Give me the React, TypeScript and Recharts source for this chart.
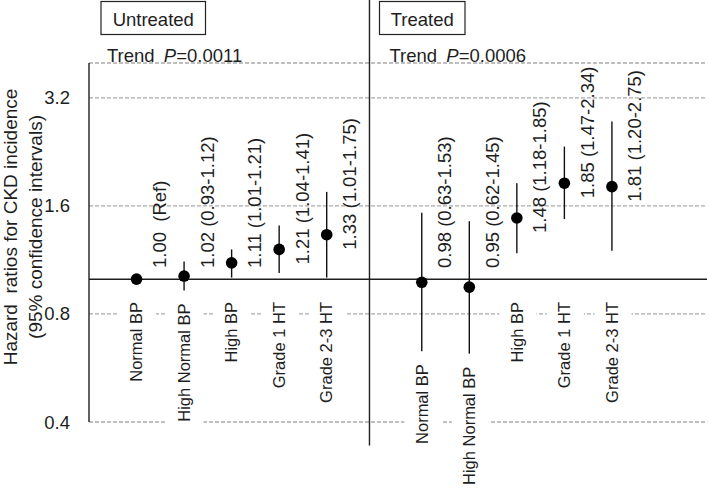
import React from "react";
import {
  ComposedChart,
  Scatter,
  XAxis,
  YAxis,
  CartesianGrid,
  ReferenceLine,
  ErrorBar,
  Customized,
} from "recharts";

// ---------- data ----------
const categories = ["Normal BP", "High Normal BP", "High BP", "Grade 1 HT", "Grade 2-3 HT"];
const untreatedPos = [1, 2, 3, 4, 5];
const treatedPos = [7, 8, 9, 10, 11];

const untreatedHR = [1.0, 1.02, 1.11, 1.21, 1.33];
const untreatedLower: (number | null)[] = [null, 0.93, 1.01, 1.04, 1.01];
const untreatedUpper: (number | null)[] = [null, 1.12, 1.21, 1.41, 1.75];

const treatedHR = [0.98, 0.95, 1.48, 1.85, 1.81];
const treatedLower: (number | null)[] = [0.63, 0.62, 1.18, 1.47, 1.2];
const treatedUpper: (number | null)[] = [1.53, 1.45, 1.85, 2.34, 2.75];

const yTicks = [0.4, 0.8, 1.6, 3.2];
const groupTitles = ["Untreated", "Treated"];
const trendP = ["0.0011", "0.0006"];
const dividerPos = 5.9;
const yTitle = ["Hazard  ratios for CKD incidence", "(95% confidence intervals)"];

// ---------- build rows ----------
type Row = {
  x: number;
  hr: number;
  err: [number, number];
  anchor: number;
  cat: string;
  label: string;
};

function buildRows(
  xs: number[],
  hr: number[],
  lo: (number | null)[],
  hi: (number | null)[]
): Row[] {
  return xs.map((x, i) => {
    const l = lo[i];
    const h = hi[i];
    const hasCI = l != null && h != null;
    return {
      x,
      hr: hr[i],
      err: hasCI ? [hr[i] - (l as number), (h as number) - hr[i]] : [0, 0],
      anchor: hasCI ? (l as number) : hr[i],
      cat: categories[i],
      label: hasCI
        ? `${hr[i].toFixed(2)} (${(l as number).toFixed(2)}-${(h as number).toFixed(2)})`
        : `${hr[i].toFixed(2)}  (Ref)`,
    };
  });
}

const rows: Row[] = [
  ...buildRows(untreatedPos, untreatedHR, untreatedLower, untreatedUpper),
  ...buildRows(treatedPos, treatedHR, treatedLower, treatedUpper),
];

// ---------- styles ----------
const FONT = "'Liberation Sans', Arial, Helvetica, sans-serif";
const TEXT = "#1e1e1e";
const VALUE_LABEL_MAX_BOTTOM = 268;
const CAT_LABEL_MIN_TOP = 302;

const PointShape = (props: any) => {
  const { cx, cy, payload } = props;
  if (cx == null || cy == null) return null;
  const bottom = Math.min(cy + 15, VALUE_LABEL_MAX_BOTTOM);
  const lx = cx + 23;
  return (
    <g>
      <circle cx={cx} cy={cy} r={5.8} fill="#000" />
      <text
        x={lx}
        y={bottom}
        dy="0.35em"
        transform={`rotate(-90 ${lx} ${bottom})`}
        textAnchor="start"
        fontSize={18.5}
        fontFamily={FONT}
        fill={TEXT}
        style={{ whiteSpace: "pre" }}
      >
        {payload.label}
      </text>
    </g>
  );
};

const CatShape = (props: any) => {
  const { cx, cy, payload } = props;
  if (cx == null || cy == null) return null;
  const top = Math.max(cy + 13, CAT_LABEL_MIN_TOP);
  const fs = 16.5;
  const len = payload.cat.length * 0.52 * fs;
  return (
    <g>
      <rect x={cx - 17.5} y={top - 3} width={37} height={len + 6} fill="#ffffff" />
      <text
        x={cx}
        y={top}
        dy="0.35em"
        transform={`rotate(-90 ${cx} ${top})`}
        textAnchor="end"
        fontSize={fs}
        fontFamily={FONT}
        fill={TEXT}
      >
        {payload.cat}
      </text>
    </g>
  );
};

const Titles = () => {
  const boxes = [
    { x: 101, w: 104.5 },
    { x: 379.5, w: 85.5 },
  ];
  const trendX = [107, 389.5];
  return (
    <g fontFamily={FONT} fill={TEXT}>
      {groupTitles.map((t, i) => (
        <g key={t}>
          <rect
            x={boxes[i].x}
            y={1.5}
            width={boxes[i].w}
            height={33}
            fill="#fff"
            stroke="#222"
            strokeWidth={1.2}
          />
          <text
            x={boxes[i].x + boxes[i].w / 2}
            y={26}
            textAnchor="middle"
            fontSize={18.5}
          >
            {t}
          </text>
          <text x={trendX[i]} y={62} fontSize={18.5}>
            Trend{" "}
            <tspan fontStyle="italic" dx={4}>
              P
            </tspan>
            <tspan>={trendP[i]}</tspan>
          </text>
        </g>
      ))}
      {yTitle.map((t, i) => {
        const x = i === 0 ? 10 : 35;
        const y = 227;
        return (
          <text
            key={t}
            x={x}
            y={y}
            dy="0.35em"
            transform={`rotate(-90 ${x} ${y})`}
            textAnchor="middle"
            fontSize={19}
            style={{ whiteSpace: "pre" }}
          >
            {t}
          </text>
        );
      })}
    </g>
  );
};

export default function App() {
  return (
    <div style={{ position: "absolute", left: 0, top: 0, width: 709, height: 488, background: "#fff" }}>
      <ComposedChart
        width={709}
        height={488}
        data={rows}
        margin={{ top: 63, right: 2, bottom: 66, left: 49 }}
      >
        <CartesianGrid
          horizontal
          vertical={false}
          stroke="#ababab"
          strokeWidth={1.3}
          strokeDasharray="4 2"
        />
        <XAxis dataKey="x" type="number" domain={[0, 13]} hide />
        <YAxis
          type="number"
          scale="log"
          domain={[0.4, 4]}
          ticks={yTicks}
          width={40}
          tickLine={false}
          tickSize={6}
          tickMargin={13}
          axisLine={{ stroke: "#1e1e1e", strokeWidth: 1.4 }}
          tick={{ fontSize: 18.5, fill: TEXT, fontFamily: FONT }}
          tickFormatter={(v: number) => String(v)}
        />
        <ReferenceLine y={1} stroke="#1e1e1e" strokeWidth={1.5} />
        <ReferenceLine
          ifOverflow="visible"
          segment={[
            { x: dividerPos, y: 6 },
            { x: dividerPos, y: 0.344 },
          ]}
          stroke="#1e1e1e"
          strokeWidth={1.4}
        />
        <Scatter
          data={rows}
          dataKey="anchor"
          shape={CatShape}
          isAnimationActive={false}
          legendType="none"
        />
        <Scatter
          data={rows}
          dataKey="hr"
          shape={PointShape}
          isAnimationActive={false}
          legendType="none"
        >
          <ErrorBar
            dataKey="err"
            direction="y"
            width={0}
            stroke="#111"
            strokeWidth={1.4}
            isAnimationActive={false}
          />
        </Scatter>
        <Customized component={Titles} />
      </ComposedChart>
    </div>
  );
}
